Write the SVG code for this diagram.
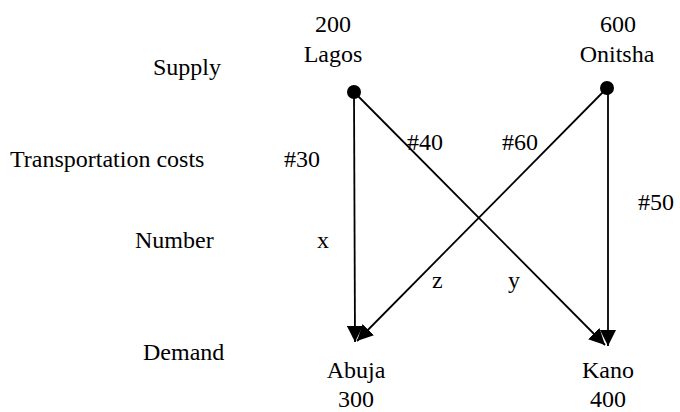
<svg xmlns="http://www.w3.org/2000/svg" width="680" height="412" viewBox="0 0 680 412">
<defs>
<style>
text{font-family:"Liberation Serif","Times New Roman",serif;font-size:24px;fill:#000}
.c{text-anchor:middle}
.l{stroke:#000;stroke-width:1.8;fill:none}
</style>
<marker id="ah2" viewBox="0 0 10 10" refX="10" refY="5" markerWidth="16" markerHeight="16" markerUnits="userSpaceOnUse" orient="auto">
<path d="M0,0 L10,5 L0,10 z" fill="#000"/>
</marker>
</defs>
<rect width="680" height="412" fill="#fff"/>
<g id="labels">
<text x="153" y="75">Supply</text>
<text x="10" y="167">Transportation costs</text>
<text x="135" y="248">Number</text>
<text x="143" y="360">Demand</text>
</g>
<g id="connectors">
<line class="l" x1="354" y1="92" x2="355" y2="342" marker-end="url(#ah2)"/>
<line class="l" x1="354" y1="92" x2="605" y2="345" marker-end="url(#ah2)"/>
<line class="l" x1="607" y1="88" x2="357" y2="341" marker-end="url(#ah2)"/>
<line class="l" x1="608" y1="88" x2="608" y2="346" marker-end="url(#ah2)"/>
<text x="284" y="167">#30</text>
<text x="407" y="150">#40</text>
<text x="502" y="150">#60</text>
<text x="638" y="210">#50</text>
<text x="317" y="248">x</text>
<text x="432" y="288">z</text>
<text x="508" y="288">y</text>
</g>
<g id="lagos">
<circle cx="354" cy="92" r="7" fill="#000"/>
<text class="c" x="333" y="32">200</text>
<text class="c" x="333" y="62">Lagos</text>
</g>
<g id="onitsha">
<circle cx="607" cy="88" r="7" fill="#000"/>
<text class="c" x="618" y="32">600</text>
<text class="c" x="617" y="62">Onitsha</text>
</g>
<g id="abuja">
<text class="c" x="356" y="378">Abuja</text>
<text class="c" x="356" y="407">300</text>
</g>
<g id="kano">
<text class="c" x="608" y="378">Kano</text>
<text class="c" x="608" y="407">400</text>
</g>
</svg>
